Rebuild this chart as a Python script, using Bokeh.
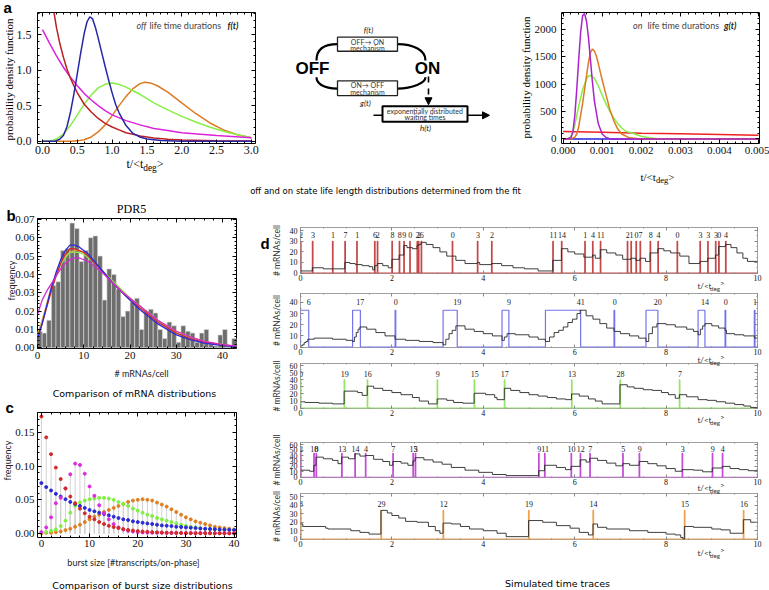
import numpy as np
from bokeh.plotting import figure
from bokeh.layouts import column, row
from bokeh.models import (Range1d, FixedTicker, LinearAxis, Arrow, NormalHead, GridBox, Spacer,
                          NumeralTickFormatter)
from bokeh.core.properties import value
from bokeh.embed import file_html
from bokeh.resources import INLINE

# ======================= DATA =======================
# (a) left: off life time densities f(t)
off_blue_t = [0, 0.18, 0.25, 0.3, 0.35, 0.4, 0.45, 0.5, 0.55, 0.6, 0.64, 0.68, 0.72, 0.76, 0.8, 0.85, 0.9, 0.95, 1.0, 1.05, 1.1, 1.2, 1.3, 1.4, 1.5, 1.7, 2.0, 3.0]
off_blue_f = [0, 0, 0.03, 0.08, 0.2, 0.4, 0.66, 0.95, 1.25, 1.52, 1.68, 1.75, 1.72, 1.6, 1.45, 1.25, 1.05, 0.86, 0.68, 0.52, 0.4, 0.22, 0.11, 0.06, 0.03, 0.01, 0, 0]
off_green_t = [0, 0.1, 0.2, 0.3, 0.4, 0.5, 0.6, 0.7, 0.8, 0.9, 1.0, 1.1, 1.2, 1.3, 1.4, 1.5, 1.6, 1.8, 2.0, 2.2, 2.4, 2.6, 2.8, 3.0]
off_green_f = [0, 0, 0.03, 0.1, 0.22, 0.37, 0.52, 0.65, 0.75, 0.8, 0.82, 0.8, 0.76, 0.71, 0.66, 0.6, 0.54, 0.44, 0.35, 0.27, 0.2, 0.14, 0.09, 0.05]
off_orange_t = [0, 0.4, 0.5, 0.6, 0.7, 0.8, 0.9, 1.0, 1.1, 1.2, 1.3, 1.4, 1.47, 1.55, 1.65, 1.8, 2.0, 2.2, 2.4, 2.6, 2.8, 3.0]
off_orange_f = [0, 0, 0.005, 0.02, 0.06, 0.13, 0.23, 0.36, 0.5, 0.63, 0.74, 0.81, 0.83, 0.82, 0.78, 0.69, 0.54, 0.39, 0.26, 0.16, 0.09, 0.05]
off_red_t = [0.15, 0.2, 0.25, 0.3, 0.35, 0.4, 0.45, 0.5, 0.6, 0.7, 0.8, 0.9, 1.0, 1.1, 1.2, 1.4, 1.6, 1.8, 2.0, 2.5, 3.0]
off_red_f = [1.9, 1.6, 1.37, 1.18, 1.02, 0.89, 0.78, 0.68, 0.52, 0.41, 0.32, 0.25, 0.2, 0.16, 0.12, 0.075, 0.045, 0.028, 0.018, 0.006, 0.002]
off_mag_t = [0, 0.1, 0.2, 0.3, 0.4, 0.5, 0.6, 0.7, 0.8, 0.9, 1.0, 1.2, 1.4, 1.6, 1.8, 2.0, 2.5, 3.0]
off_mag_f = [1.57, 1.38, 1.2, 1.04, 0.9, 0.78, 0.67, 0.58, 0.5, 0.43, 0.37, 0.29, 0.23, 0.18, 0.15, 0.12, 0.08, 0.05]

# (a) right: on life time densities g(t)
on_purple_t = [0, 0.0001, 0.0002, 0.00025, 0.0003, 0.00035, 0.0004, 0.00045, 0.0005, 0.00055, 0.0006, 0.00065, 0.0007, 0.00075, 0.0008, 0.0009, 0.001, 0.0011, 0.0012, 0.0013, 0.005]
on_purple_g = [0, 0, 20, 120, 420, 900, 1450, 1950, 2250, 2290, 2150, 1850, 1450, 1050, 700, 280, 90, 25, 5, 0, 0]
on_orange_t = [0, 0.0002, 0.0003, 0.00035, 0.0004, 0.0005, 0.0006, 0.00065, 0.0007, 0.00075, 0.0008, 0.00085, 0.0009, 0.001, 0.0011, 0.0012, 0.0013, 0.0014, 0.0015, 0.0017, 0.002, 0.005]
on_orange_g = [0, 0, 30, 90, 220, 650, 1150, 1400, 1580, 1640, 1610, 1520, 1380, 1080, 800, 530, 330, 180, 90, 20, 0, 0]
on_green_t = [0, 0.0001, 0.0002, 0.0003, 0.0004, 0.0005, 0.0006, 0.00065, 0.0007, 0.0008, 0.0009, 0.001, 0.0011, 0.0012, 0.0013, 0.0014, 0.0015, 0.0016, 0.0018, 0.002, 0.0022, 0.0025, 0.005]
on_green_g = [0, 0, 40, 250, 600, 900, 1100, 1150, 1160, 1110, 970, 800, 640, 500, 380, 280, 200, 140, 100, 50, 20, 0, 0]
on_red_t = [0, 0.001, 0.002, 0.003, 0.004, 0.005]
on_red_g = [135, 120, 105, 92, 79, 66]
on_blue_t = [0, 0.005]
on_blue_g = [0, 0]

# (b) PDR5 mRNA histogram (bins of width 1 starting at 0) and fitted curves
mrna_freq = [0.009, 0.008, 0.015, 0.034, 0.036, 0.053, 0.054, 0.068, 0.065, 0.047, 0.053, 0.060, 0.061, 0.050, 0.026,
             0.043, 0.040, 0.032, 0.017, 0.020, 0.025, 0.027, 0.010, 0.020, 0.021, 0.019, 0.010, 0.005, 0.014, 0.012,
             0.003, 0.012, 0.009, 0.008, 0.003, 0.008, 0.010, 0.002, 0.001, 0.007, 0.010, 0.001, 0.005]
fit_n = [0, 1, 2, 3, 4, 5, 6, 7, 8, 9, 10, 11, 12, 14, 16, 18, 20, 22, 24, 26, 28, 30, 33, 36, 40, 43]
fit_blue = [0.005, 0.013, 0.023, 0.033, 0.041, 0.048, 0.053, 0.056, 0.056, 0.055, 0.053, 0.051, 0.048, 0.042, 0.036, 0.031, 0.026, 0.021, 0.017, 0.013, 0.010, 0.007, 0.0045, 0.0025, 0.0012, 0.0006]
fit_red = [0.006, 0.013, 0.022, 0.031, 0.039, 0.046, 0.051, 0.054, 0.054, 0.053, 0.052, 0.050, 0.047, 0.042, 0.036, 0.031, 0.026, 0.022, 0.018, 0.014, 0.011, 0.008, 0.005, 0.003, 0.0015, 0.0008]
fit_orange = [0.007, 0.015, 0.024, 0.033, 0.040, 0.046, 0.050, 0.052, 0.053, 0.053, 0.052, 0.050, 0.047, 0.042, 0.037, 0.032, 0.027, 0.023, 0.019, 0.015, 0.012, 0.009, 0.006, 0.0035, 0.0017, 0.0009]
fit_green = [0.006, 0.014, 0.023, 0.032, 0.039, 0.045, 0.049, 0.052, 0.052, 0.052, 0.051, 0.049, 0.047, 0.042, 0.037, 0.032, 0.027, 0.023, 0.019, 0.015, 0.011, 0.008, 0.005, 0.003, 0.0015, 0.0008]
fit_mag = [0.018, 0.026, 0.031, 0.035, 0.039, 0.043, 0.046, 0.048, 0.049, 0.049, 0.048, 0.047, 0.045, 0.041, 0.036, 0.031, 0.027, 0.023, 0.019, 0.015, 0.012, 0.009, 0.006, 0.0035, 0.0017, 0.0009]

# (c) burst size distributions, burst sizes 0..40
burst_size = list(range(41))
burst_red = [0.174, 0.143, 0.118, 0.098, 0.081, 0.067, 0.055, 0.045, 0.037, 0.030, 0.025, 0.021, 0.017, 0.014, 0.0115, 0.0095, 0.008, 0.0065, 0.0053, 0.0044, 0.0036, 0.003, 0.0025, 0.002, 0.0017, 0.0014, 0.0011, 0.0009, 0.0008, 0.0006, 0.0005, 0.0004, 0.0004, 0.0003, 0.0003, 0.0002, 0.0002, 0.0002, 0.0001, 0.0001, 0.0001]
burst_blue = [0.075, 0.069, 0.064, 0.059, 0.055, 0.051, 0.047, 0.044, 0.041, 0.038, 0.035, 0.033, 0.031, 0.029, 0.027, 0.025, 0.023, 0.021, 0.020, 0.018, 0.017, 0.016, 0.015, 0.014, 0.013, 0.012, 0.0115, 0.011, 0.010, 0.0095, 0.009, 0.0085, 0.008, 0.0075, 0.007, 0.0068, 0.0064, 0.006, 0.0057, 0.0054, 0.005]
burst_mag = [0.002, 0.009, 0.024, 0.045, 0.053, 0.067, 0.088, 0.104, 0.102, 0.089, 0.070, 0.056, 0.042, 0.030, 0.021, 0.014, 0.009, 0.006, 0.004, 0.003, 0.002, 0.0015, 0.0012, 0.001, 0.001, 0.001, 0.0008, 0.0008, 0.0008, 0.0007, 0.0007, 0.0007, 0.0006, 0.0006, 0.0006, 0.0006, 0.0005, 0.0005, 0.0005, 0.0005, 0.0005]
burst_green = [0.001, 0.002, 0.004, 0.006, 0.011, 0.019, 0.031, 0.041, 0.046, 0.049, 0.051, 0.052, 0.053, 0.053, 0.052, 0.050, 0.047, 0.044, 0.041, 0.037, 0.034, 0.031, 0.028, 0.026, 0.023, 0.021, 0.019, 0.017, 0.015, 0.013, 0.011, 0.010, 0.009, 0.008, 0.007, 0.006, 0.006, 0.005, 0.005, 0.005, 0.005]
burst_orange = [0.0, 0.001, 0.001, 0.002, 0.003, 0.005, 0.007, 0.010, 0.013, 0.017, 0.021, 0.025, 0.028, 0.032, 0.035, 0.038, 0.041, 0.044, 0.047, 0.049, 0.050, 0.051, 0.050, 0.049, 0.046, 0.043, 0.040, 0.036, 0.032, 0.028, 0.024, 0.021, 0.018, 0.016, 0.014, 0.012, 0.010, 0.009, 0.008, 0.007, 0.006]

# (d) simulated time traces: mRNA counts (step traces), on-phases and burst labels
d1_t = [0, 0.26, 0.5, 0.97, 1.08, 1.2, 1.35, 1.5, 1.58, 1.62, 1.68, 1.8, 1.92, 2.0, 2.16, 2.26, 2.33, 2.45, 2.55, 2.58, 2.64, 2.75, 2.9, 3.05, 3.2, 3.4, 3.6, 3.87, 3.92, 4.18, 4.4, 4.65, 4.9, 5.2, 5.52, 5.71, 5.85, 6.0, 6.2, 6.39, 6.45, 6.56, 6.7, 6.9, 7.05, 7.23, 7.34, 7.43, 7.55, 7.65, 7.82, 7.95, 8.1, 8.3, 8.5, 8.74, 8.91, 9.08, 9.15, 9.3, 9.42, 9.55, 9.68, 9.78, 10]
d1_n = [2, 5, 4, 10, 9, 8, 7, 6, 3, 7, 9, 7, 5, 13, 17, 26, 24, 23, 26, 27, 29, 27, 24, 20, 16, 12, 9, 10, 8, 9, 7, 5, 4, 2, 12, 23, 20, 18, 15, 17, 14, 22, 19, 17, 13, 14, 12, 14, 11, 19, 23, 21, 19, 16, 9, 11, 14, 17, 25, 27, 24, 19, 14, 11, 11]
d1_on = [0.0, 0.26, 0.70, 0.97, 1.23, 1.62, 1.68, 2.00, 2.16, 2.26, 2.39, 2.55, 2.58, 2.64, 3.32, 3.87, 4.18, 5.52, 5.71, 6.22, 6.39, 6.56, 7.15, 7.23, 7.34, 7.43, 7.65, 7.82, 8.24, 8.74, 8.91, 9.08, 9.15, 9.30]
d1_off = [t + 0.012 for t in d1_on]
d1_lab = ["2", "3", "1", "7", "1", "6", "2", "8", "8", "9", "0", "2", "2", "6", "0", "3", "2", "11", "14", "1", "4", "11", "2", "1", "0", "7", "8", "4", "0", "3", "3", "3", "0", "4"]

d2_t = [0, 0.04, 0.08, 0.12, 0.16, 0.3, 0.7, 1.0, 1.14, 1.18, 1.22, 1.26, 1.3, 1.45, 1.65, 1.85, 2.07, 2.3, 2.6, 2.9, 3.12, 3.18, 3.25, 3.32, 3.4, 3.6, 3.8, 4.0, 4.2, 4.41, 4.46, 4.52, 4.7, 5.0, 5.2, 5.36, 5.45, 5.55, 5.65, 5.75, 5.85, 5.95, 6.05, 6.12, 6.25, 6.4, 6.55, 6.7, 6.86, 7.0, 7.2, 7.4, 7.56, 7.62, 7.7, 7.8, 8.0, 8.2, 8.45, 8.6, 8.7, 8.75, 8.8, 8.85, 9.0, 9.15, 9.29, 9.32, 9.5, 9.7, 9.94, 10]
d2_n = [1, 2, 4, 5, 7, 8, 7, 6, 5, 9, 13, 16, 18, 16, 13, 10, 7, 6, 5, 4, 2, 7, 12, 15, 19, 16, 14, 12, 10, 6, 9, 12, 11, 9, 7, 5, 9, 13, 15, 18, 22, 25, 30, 33, 28, 25, 21, 17, 14, 12, 10, 8, 5, 12, 18, 21, 20, 18, 16, 14, 11, 16, 19, 21, 19, 17, 15, 12, 11, 10, 8, 8]
d2_on = [0.0, 1.14, 2.07, 3.12, 4.41, 5.36, 6.86, 7.56, 8.70, 9.29, 9.93]
d2_off = [0.18, 1.31, 2.085, 3.43, 4.56, 6.13, 6.875, 7.82, 8.85, 9.305, 9.945]
d2_lab = ["6", "17", "0", "19", "9", "41", "0", "20", "14", "0", "1"]

d3_t = [0, 0.1, 0.4, 0.7, 0.955, 1.25, 1.35, 1.46, 1.6, 1.8, 2.0, 2.2, 2.45, 2.6, 2.8, 2.99, 3.2, 3.35, 3.55, 3.8, 4.05, 4.25, 4.3, 4.46, 4.6, 4.8, 5.0, 5.2, 5.4, 5.6, 5.8, 5.93, 6.1, 6.3, 6.45, 6.6, 6.99, 7.15, 7.3, 7.5, 7.7, 7.9, 8.05, 8.2, 8.29, 8.45, 8.7, 8.9, 9.1, 9.3, 9.5, 9.7, 9.85, 10]
d3_n = [9, 8, 7, 6, 24, 22, 18, 31, 28, 25, 22, 19, 15, 10, 6, 13, 11, 8, 7, 21, 19, 15, 12, 28, 25, 22, 19, 17, 15, 13, 12, 20, 17, 13, 10, 6, 33, 30, 28, 26, 25, 22, 19, 14, 19, 16, 12, 11, 9, 7, 5, 3, 1, 0]
d3_on = [0.0, 0.955, 1.46, 2.99, 3.80, 4.46, 5.93, 6.99, 8.29]
d3_off = [t + 0.012 for t in d3_on]
d3_lab = ["0", "19", "16", "9", "15", "17", "13", "28", "7"]

d4_t = [0, 0.1, 0.2, 0.29, 0.34, 0.5, 0.7, 0.82, 0.90, 1.05, 1.19, 1.3, 1.42, 1.6, 1.8, 1.95, 2.02, 2.2, 2.35, 2.46, 2.51, 2.7, 2.9, 3.1, 3.3, 3.6, 3.9, 4.2, 4.5, 5.21, 5.34, 5.6, 5.8, 5.92, 6.12, 6.25, 6.33, 6.5, 6.7, 6.9, 7.05, 7.2, 7.41, 7.6, 7.8, 8.0, 8.2, 8.35, 8.6, 8.8, 9.01, 9.23, 9.4, 9.6, 9.8, 10]
d4_n = [13, 13, 11, 22, 37, 34, 31, 25, 37, 34, 43, 39, 40, 33, 29, 22, 29, 26, 22, 30, 36, 32, 28, 24, 18, 13, 9, 5, 3, 12, 22, 18, 14, 20, 32, 28, 35, 31, 26, 21, 25, 22, 29, 25, 21, 16, 11, 14, 13, 10, 17, 20, 16, 14, 12, 10]
d4_on = [0.0, 0.29, 0.34, 0.90, 1.19, 1.42, 2.02, 2.46, 2.51, 5.21, 5.34, 5.92, 6.12, 6.33, 7.05, 7.41, 8.35, 9.01, 9.23]
d4_off = [t + 0.012 for t in d4_on]
d4_lab = ["2", "10", "8", "13", "14", "4", "7", "15", "3", "9", "11", "10", "12", "7", "5", "9", "3", "9", "4"]

d5_t = [0, 0.05, 0.55, 0.6, 1.1, 1.3, 1.5, 1.76, 1.9, 2.0, 2.15, 2.3, 2.55, 2.8, 2.95, 3.05, 3.12, 3.3, 3.5, 3.7, 4.0, 4.3, 4.5, 4.99, 5.3, 5.6, 5.9, 6.1, 6.3, 6.40, 6.5, 6.7, 7.2, 7.6, 8.0, 8.2, 8.32, 8.37, 8.40, 8.6, 9.0, 9.2, 9.4, 9.69, 9.85, 10]
d5_n = [18, 15, 13, 12, 10, 8, 6, 34, 31, 28, 25, 21, 20, 15, 10, 7, 19, 18, 15, 12, 10, 7, 3, 22, 20, 16, 13, 8, 5, 18, 14, 12, 10, 8, 6, 5, 2, 0, 15, 14, 12, 11, 7, 23, 20, 19]
d5_on = [0.0, 1.76, 3.12, 4.99, 6.40, 8.40, 9.69]
d5_off = [t + 0.012 for t in d5_on]
d5_lab = ["8", "29", "12", "19", "14", "15", "16"]

# tick positions
a_xticks = [0.0, 0.5, 1.0, 1.5, 2.0, 2.5, 3.0]
a_yticks = [0.0, 0.5, 1.0, 1.5]
ar_xticks = [0.0, 0.001, 0.002, 0.003, 0.004, 0.005]
ar_yticks = [0, 500, 1000, 1500, 2000]
b_xticks = [0, 10, 20, 30, 40]
b_yticks = [0.0, 0.01, 0.02, 0.03, 0.04, 0.05, 0.06, 0.07]
c_xticks = [0, 10, 20, 30, 40]
c_yticks = [0.0, 0.05, 0.1, 0.15]
d_xticks = [0, 2, 4, 6, 8, 10]
d40_yticks = [0, 10, 20, 30, 40]
d60_yticks = [0, 10, 20, 30, 40, 50, 60]
d50_yticks = [0, 10, 20, 30, 40, 50]

# ======================= HELPERS =======================
SERIF = "Liberation Serif"
SANS = "Lato"
CAPF = "DejaVu Sans"
W_ALL, H_ALL = 769, 590


def axfig(org, W, H, frame, xr, yr):
    L0, T0 = org
    fx0, fx1, fy0, fy1 = frame
    p = figure(width=W, height=H, x_range=Range1d(*xr), y_range=Range1d(*yr),
               output_backend="svg", toolbar_location=None,
               min_border_left=int(fx0 - L0), min_border_right=int(L0 + W - fx1),
               min_border_top=max(1, int(fy0 - T0)), min_border_bottom=int(T0 + H - fy1))
    p.xgrid.visible = False
    p.ygrid.visible = False
    p.outline_line_color = "black"
    p.outline_line_width = 1
    p.background_fill_color = "white"
    p.border_fill_color = "white"
    return p


def cfg_axis(ax, ticks, minor, fmt, size, color, show, tick, standoff):
    ax.ticker = FixedTicker(ticks=list(ticks), minor_ticks=[float(v) for v in minor])
    ax.formatter = NumeralTickFormatter(format=fmt)
    ax.axis_line_color = None
    ax.major_tick_in = tick
    ax.major_tick_out = 0
    ax.minor_tick_in = max(1, tick // 2)
    ax.minor_tick_out = 0
    ax.major_tick_line_color = color
    ax.minor_tick_line_color = color
    if show:
        ax.major_label_text_font = SERIF
        ax.major_label_text_font_size = f"{size}px"
        ax.major_label_text_color = "#111111"
        ax.major_label_standoff = standoff
    else:
        ax.major_label_text_font_size = "0px"
        ax.major_label_text_color = None
        ax.major_label_standoff = 0


def style(p, xt, xm, xf, yt, ym, yf, size, color="black", tick=4, xs=2, ys=4):
    cfg_axis(p.xaxis[0], xt, xm, xf, size, color, True, tick, xs)
    cfg_axis(p.yaxis[0], yt, ym, yf, size, color, True, tick, ys)
    top = LinearAxis()
    cfg_axis(top, xt, xm, xf, size, color, False, tick, 0)
    rgt = LinearAxis()
    cfg_axis(rgt, yt, ym, yf, size, color, False, tick, 0)
    p.add_layout(top, "above")
    p.add_layout(rgt, "right")


def txtfig(W, H, xr, yr):
    p = figure(width=W, height=H, x_range=Range1d(*xr), y_range=Range1d(*yr),
               x_axis_type=None, y_axis_type=None,
               output_backend="svg", toolbar_location=None, min_border=0)
    p.outline_line_color = None
    return p


def ftext(p, rx, ry, text, size, font, fstyle="normal", align="center", color="black", angle=0.0):
    p.text(x=[rx], y=[ry], text=[text], text_font=value(font), text_font_size=value(f"{size}px"),
           text_font_style=value(fstyle), text_align=align, text_baseline="middle",
           text_color=color, angle=angle)


# overlay figure (page coordinates) that carries all labels lying outside plot frames
ov = txtfig(W_ALL, H_ALL, (0, W_ALL), (H_ALL, 0))
ov.background_fill_color = None
ov.border_fill_color = None


def tlab(rx, ry, size, font, color="black", raise_gt=False):
    w1 = (1.4 if font == SERIF else 1.55) * size
    sub = 0.78 * size
    w2 = (1.45 if font == SERIF else 1.6) * sub
    ftext(ov, rx, ry, "t/<t", size, font, align="left", color=color)
    ftext(ov, rx + w1, ry + 0.35 * size, "deg", sub, font, align="left", color=color)
    ftext(ov, rx + w1 + w2, ry - (0.3 * size if raise_gt else 0), ">", size, font,
          align="left", color=color)


ROT = np.pi / 2

# ======================= PANEL a (left) =======================
aL = axfig((0, 0), 262, 186, (37, 255, 12, 147), (-0.072, 3.06), (-0.032, 1.81))
style(aL, a_xticks, np.arange(0, 3.01, 0.1), "0.0", a_yticks, np.arange(0, 1.81, 0.1), "0.0", 12, xs=2, ys=6)
for tt, ff, col in [(off_orange_t, off_orange_f, "#dd7a22"), (off_green_t, off_green_f, "#88ee44"),
                    (off_mag_t, off_mag_f, "#dd22dd"), (off_red_t, off_red_f, "#bb2222"),
                    (off_blue_t, off_blue_f, "#2626a8")]:
    aL.line(tt, ff, color=col, line_width=1.5)
ftext(ov, 3, 7, "a", 15, "Liberation Sans", "bold", align="left")
ftext(ov, 8, 79, "probability density function", 11, SERIF, angle=ROT)
tlab(126, 163, 12, SERIF)
ftext(ov, 146, 25, "off", 9, SANS, "italic", align="right", color="#444444")
ftext(ov, 149, 25, "life time durations", 9, SANS, align="left", color="#444444")
ftext(ov, 238, 25, "f(t)", 9, SANS, "bold italic", align="right", color="#222222")

# ======================= diagram =======================
dg = txtfig(250, 186, (262, 512), (186, 0))
dg.bezier(x0=[337, 316, 397, 425], y0=[45, 92, 45, 92], x1=[316, 337, 425, 397], y1=[68, 108, 68, 108],
          cx0=[322, 316, 412, 425], cy0=[45, 100, 45, 100], cx1=[316, 322, 425, 412], cy1=[53, 108, 53, 108],
          line_color="black", line_width=2.2)
dg.quad(left=[337, 337], right=[397, 397], top=[35, 97], bottom=[55, 118],
        fill_color="white", line_color="#222222", line_width=1.3)
ftext(dg, 367, 41.5, "OFF\u2192 ON", 7, SANS, color="#333333")
ftext(dg, 367, 50, "mechanism", 7, SANS, color="#333333")
ftext(dg, 367, 103, "ON\u2192 OFF", 7, SANS, color="#333333")
ftext(dg, 367, 112.5, "mechanism", 7, SANS, color="#333333")
ftext(dg, 312, 79, "OFF", 17, "Liberation Sans", "bold")
ftext(dg, 427, 79, "ON", 17, "Liberation Sans", "bold")
ftext(dg, 368, 25, "f(t)", 8, SANS, "italic", color="#222222")
ftext(dg, 365, 128, "g(t)", 8, SANS, "italic", color="#222222")
ftext(dg, 425, 164, "h(t)", 8, SANS, "italic", color="#222222")
dg.segment(x0=[373], y0=[146], x1=[382], y1=[146], line_color="black", line_width=1.5)
dg.add_layout(Arrow(end=NormalHead(size=7, fill_color="black", line_color="black"),
                    x_start=467, y_start=146, x_end=489, y_end=146, line_width=1.5))
dg.add_layout(Arrow(end=NormalHead(size=7, fill_color="black", line_color="black"),
                    x_start=428, y_start=91, x_end=428, y_end=131, line_width=1.6, line_dash="dashed"))
dg.quad(left=[382], right=[467], top=[133], bottom=[155], fill_color="white", line_color="black", line_width=2)
ftext(dg, 424.5, 139.5, "exponentially distributed", 7, SANS, color="#333333")
ftext(dg, 424.5, 148.5, "waiting times", 7, SANS, color="#333333")

# ======================= PANEL a (right) =======================
aR = axfig((512, 0), 257, 186, (561, 759, 12, 143), (-0.00004, 0.005026), (-84, 2310))
style(aR, ar_xticks, np.arange(0, 0.00501, 0.0002), "0.000", ar_yticks, np.arange(0, 2301, 100), "0", 11, xs=3, ys=5)
for tt, gg, col in [(on_blue_t, on_blue_g, "#2222dd"), (on_red_t, on_red_g, "#ee2222"),
                    (on_green_t, on_green_g, "#88ee44"), (on_orange_t, on_orange_g, "#dd7a22"),
                    (on_purple_t, on_purple_g, "#aa22cc")]:
    aR.line(tt, gg, color=col, line_width=1.5)
ftext(ov, 525, 77, "probability density function", 11, SERIF, angle=ROT)
tlab(640, 176, 11, SERIF)
ftext(ov, 642, 25, "on", 9, SANS, "italic", align="right", color="#444444")
ftext(ov, 647, 25, "life time durations", 9, SANS, align="left", color="#444444")
ftext(ov, 736, 25, "g(t)", 9, SANS, "bold italic", align="right", color="#222222")
ftext(ov, 385, 190, "off and on state life length distributions determined from the fit", 8.5, CAPF)

# ======================= PANEL b =======================
pb = axfig((0, 199), 258, 181, (37, 236, 218, 348), (0, 43), (-0.0004, 0.0705))
style(pb, b_xticks, np.arange(0, 43.1, 2), "0", b_yticks, np.arange(0, 0.0705, 0.002), "0.00", 11, xs=3, ys=3)
bin_left = np.arange(len(mrna_freq))
pb.quad(left=bin_left, right=bin_left + 1, bottom=0, top=mrna_freq,
        fill_color="#6d6d6d", line_color="#dddddd", line_width=0.6)
for yy, col in [(fit_orange, "#e8a53a"), (fit_green, "#8ee04f"), (fit_red, "#d62a2a"),
                (fit_blue, "#2b2bd9"), (fit_mag, "#d42ad4")]:
    pb.line(fit_n, yy, color=col, line_width=1.3)
ftext(ov, 6, 215, "b", 15, "Liberation Sans", "bold", align="left")
ftext(ov, 131, 208, "PDR5", 12, SERIF)
ftext(ov, 11, 280, "frequency", 9, SANS, angle=ROT, color="#222222")
ftext(ov, 141, 373, "# mRNAs/cell", 9, SANS, color="#222222")
ftext(ov, 134, 393, "Comparison of mRNA distributions", 9.5, CAPF)

# ======================= PANEL c =======================
pc = axfig((0, 402), 258, 168, (33, 237, 412, 537), (-0.81, 40.5), (-0.006, 0.18))
style(pc, c_xticks, np.arange(0, 40.1, 2), "0", c_yticks, np.arange(0, 0.181, 0.01), "0.00", 11, xs=2, ys=3)
for yy in [burst_orange, burst_green, burst_blue, burst_mag, burst_red]:
    pc.segment(x0=burst_size, y0=0, x1=burst_size, y1=yy, line_color="#d2d2d2", line_width=1)
for yy, col in [(burst_orange, "#e07f22"), (burst_green, "#7ff040"), (burst_blue, "#2a2ad6"),
                (burst_mag, "#e02ae0"), (burst_red, "#d42a2a")]:
    pc.scatter(burst_size, yy, size=3.0, color=col, marker="circle")
ftext(ov, 5, 407, "c", 15, "Liberation Sans", "bold", align="left")
ftext(ov, 7, 460, "frequency", 9, SANS, angle=ROT, color="#222222")
ftext(ov, 133, 562, "burst size [#transcripts/on-phase]", 9, SANS, color="#222222")
ftext(ov, 142, 585, "Comparison of burst size distributions", 9.5, CAPF)


# ======================= PANEL d =======================
def dpanel(T0, H, fy, yr, yt, tr_t, tr_n, on_s, on_e, labels, lev, hgt, col, tly):
    p = axfig((258, T0), 511, H, (300, 757, fy[0], fy[1]), (0, 10), yr)
    p.outline_line_color = "#a0a0a0"
    style(p, d_xticks, np.arange(0, 10.01, 0.5), "0", yt, np.arange(0, yr[1], 5), "0", 8,
          color="#888888", tick=3, xs=1, ys=3)
    xs, ys = [tr_t[0]], [0]
    for s, e in zip(on_s, on_e):
        xs += [s, s, e, e]
        ys += [0, hgt, hgt, 0]
    xs.append(tr_t[-1])
    ys.append(0)
    p.line(xs, ys, color=col, line_width=1.2)
    p.step(tr_t, tr_n, mode="after", color="#2a2a2a", line_width=0.9)
    p.text(x=on_e, y=lev, text=labels, text_font=value(SERIF), text_font_size=value("8px"),
           text_align="center", text_baseline="middle", text_color="#222222")
    ftext(ov, 276, (fy[0] + fy[1]) / 2, "# mRNAs/cell", 8.5, SANS, angle=ROT, color="#333333")
    tlab(697, tly, 8, SANS, color="#333333", raise_gt=True)
    return p


d1 = dpanel(199, 86, (227, 273), (-0.4, 43), d40_yticks, d1_t, d1_n, d1_on, d1_off, d1_lab, 36, 30, "#c44848", 285)
d2 = dpanel(285, 74, (293, 347), (-0.4, 48), d40_yticks, d2_t, d2_n, d2_on, d2_off, d2_lab, 40.5, 33, "#7474ee", 359)
d3 = dpanel(359, 61, (363, 408), (-0.5, 63), d60_yticks, d3_t, d3_n, d3_on, d3_off, d3_lab, 48, 40, "#95e368", 419)
d4 = dpanel(420, 69, (442, 477), (-0.5, 64), d60_yticks, d4_t, d4_n, d4_on, d4_off, d4_lab, 52, 44, "#c44bd6", 487)
d5 = dpanel(489, 71, (493, 539), (-0.4, 54), d50_yticks, d5_t, d5_n, d5_on, d5_off, d5_lab, 42, 34, "#f0a04a", 552)
ftext(ov, 260, 243, "d", 15, "Liberation Sans", "bold", align="left")
ftext(ov, 557, 583, "Simulated time traces", 9.5, CAPF)

# ======================= LAYOUT =======================
top_row = row(aL, dg, aR, spacing=0)
left_col = column(pb, Spacer(width=258, height=22), pc, Spacer(width=258, height=20), spacing=0)
right_col = column(d1, d2, d3, d4, d5, Spacer(width=511, height=30), spacing=0)
bottom = row(left_col, right_col, spacing=0)
main = column(top_row, Spacer(width=W_ALL, height=13), bottom, spacing=0)
root = GridBox(children=[(main, 0, 0), (ov, 0, 0)])

open("out.html", "w").write(file_html(root, INLINE))
